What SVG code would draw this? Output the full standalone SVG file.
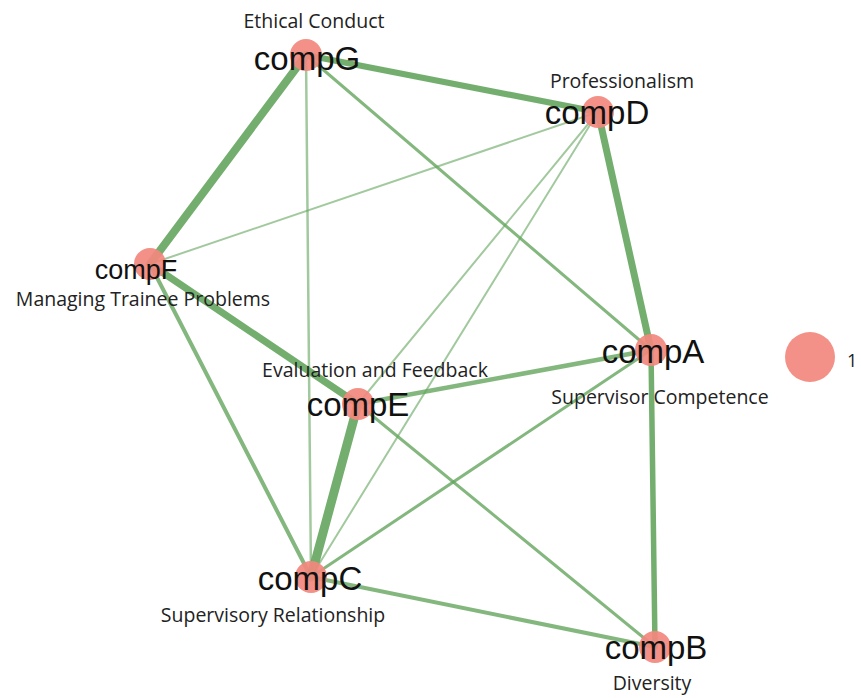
<svg xmlns="http://www.w3.org/2000/svg" width="861" height="698" viewBox="0 0 861 698">
<style>
.e{stroke:#64a55e;stroke-linecap:round;fill:none}
.lt{stroke-opacity:0.6}
.md{stroke-opacity:0.8}
.hv{stroke-opacity:0.9}
.n{fill:#f2877d;fill-opacity:0.92}
.lab{font-family:"Liberation Sans",Arial,sans-serif;font-size:33px;fill:#111;text-anchor:middle}
.sub{font-family:"Open Sans","Noto Sans",sans-serif;font-size:19.5px;fill:#222;text-anchor:middle}
</style>
<rect width="861" height="698" fill="#ffffff"/>
<g id="edges">
<line class="e lt" x1="306" y1="55" x2="311" y2="577" stroke-width="2.5"/>
<line class="e lt" x1="598" y1="112" x2="150" y2="264" stroke-width="2"/>
<line class="e lt" x1="598" y1="112" x2="311" y2="577" stroke-width="2"/>
<line class="e lt" x1="598" y1="112" x2="358" y2="404" stroke-width="2"/>
<line class="e md" x1="306" y1="55" x2="651" y2="350" stroke-width="3"/>
<line class="e md" x1="311" y1="577" x2="651" y2="350" stroke-width="3"/>
<line class="e md" x1="358" y1="404" x2="655" y2="647" stroke-width="3"/>
<line class="e md" x1="150" y1="264" x2="311" y2="577" stroke-width="4"/>
<line class="e md" x1="311" y1="577" x2="655" y2="647" stroke-width="4"/>
<line class="e md" x1="358" y1="404" x2="651" y2="350" stroke-width="4.5"/>
<line class="e hv" x1="651" y1="350" x2="655" y2="647" stroke-width="5.5"/>
<line class="e hv" x1="306" y1="55" x2="598" y2="112" stroke-width="6"/>
<line class="e hv" x1="598" y1="112" x2="651" y2="350" stroke-width="7"/>
<line class="e hv" x1="150" y1="264" x2="358" y2="404" stroke-width="7"/>
<line class="e hv" x1="306" y1="55" x2="150" y2="264" stroke-width="8"/>
<line class="e hv" x1="358" y1="404" x2="311" y2="577" stroke-width="9"/>
</g>
<g id="compG">
<circle class="n" cx="306" cy="55" r="16"/>
<text class="sub" x="314" y="28">Ethical Conduct</text>
<text class="lab" x="307" y="70">compG</text>
</g>
<g id="compD">
<circle class="n" cx="598" cy="112" r="16"/>
<text class="sub" x="622" y="88">Professionalism</text>
<text class="lab" x="597" y="124">compD</text>
</g>
<g id="compF">
<circle class="n" cx="150" cy="264" r="16"/>
<text class="lab" x="136" y="279" style="font-size:27px">compF</text>
<text class="sub" x="143" y="306">Managing Trainee Problems</text>
</g>
<g id="compE">
<circle class="n" cx="358" cy="404" r="16"/>
<text class="sub" x="375" y="377">Evaluation and Feedback</text>
<text class="lab" x="358" y="416">compE</text>
</g>
<g id="compA">
<circle class="n" cx="651" cy="350" r="16"/>
<text class="lab" x="653" y="363">compA</text>
<text class="sub" x="660" y="404">Supervisor Competence</text>
</g>
<g id="compC">
<circle class="n" cx="311" cy="577" r="16"/>
<text class="lab" x="310" y="590">compC</text>
<text class="sub" x="273" y="622">Supervisory Relationship</text>
</g>
<g id="compB">
<circle class="n" cx="655" cy="647" r="16"/>
<text class="lab" x="656" y="659">compB</text>
<text class="sub" x="652" y="690">Diversity</text>
</g>
<g id="node1">
<circle class="n" cx="810" cy="357" r="25"/>
<text class="sub" x="847" y="367" style="text-anchor:start;font-size:18px">1</text>
</g>
</svg>
